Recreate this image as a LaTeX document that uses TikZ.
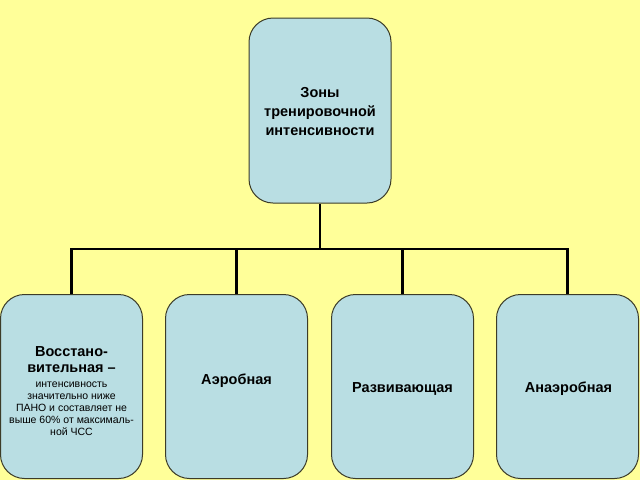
\documentclass[tikz,border=0pt]{standalone}
\usepackage{fontspec}
\setmainfont{Liberation Sans}
\definecolor{bgyellow}{RGB}{255,255,153}
\definecolor{boxblue}{RGB}{185,222,227}
\definecolor{boxedge}{RGB}{60,60,40}
\newcommand{\bigtxt}{\fontsize{14.5}{19}\selectfont\bfseries}
\begin{document}
\begin{tikzpicture}[x=1pt,y=-1pt,
  zone/.style={draw=boxedge,line width=1pt,fill=boxblue,rounded corners=24pt,
    minimum width=142pt,minimum height=184pt,inner sep=0pt},
  ztext/.style={align=center,inner sep=0pt,font=\bigtxt},
  smalltext/.style={align=center,inner sep=0pt,font=\fontsize{10.5}{12}\selectfont},
  conn/.style={line width=2.2pt,black}]
\fill[bgyellow] (0,0) rectangle (640,480);
\useasboundingbox (0,0) rectangle (640,480);
\node[zone,minimum height=185pt] (top) at (320,110.5) {};
\node[zone] (z1) at (71.5,386.5) {};
\node[zone] (z2) at (236.5,386.5) {};
\node[zone] (z3) at (402.5,386.5) {};
\node[zone] (z4) at (567.5,386.5) {};
\node[ztext] (t0) at (320,112) {Зоны\\тренировочной\\интенсивности};
\node[smalltext] (t1) at (71.5,391) {\bigtxt Восстано-\\[4pt]\bigtxt вительная –\\[3pt]
  интенсивность\\значительно ниже\\ПАНО и составляет не\\выше 60\% от максималь-\\ной ЧСС};
\node[ztext] (t2) at (236.5,381) {Аэробная};
\node[ztext] (t3) at (402.5,389) {Развивающая};
\node[ztext] (t4) at (568.5,389) {Анаэробная};
\coordinate (hub) at (320,249);
\draw[conn] (top.south) -- (hub);
\draw[conn] (z1.north) |- (hub) -| (z4.north);
\draw[conn] (z2.north) -- (z2.north |- hub);
\draw[conn] (z3.north) -- (z3.north |- hub);
\end{tikzpicture}
\end{document}
